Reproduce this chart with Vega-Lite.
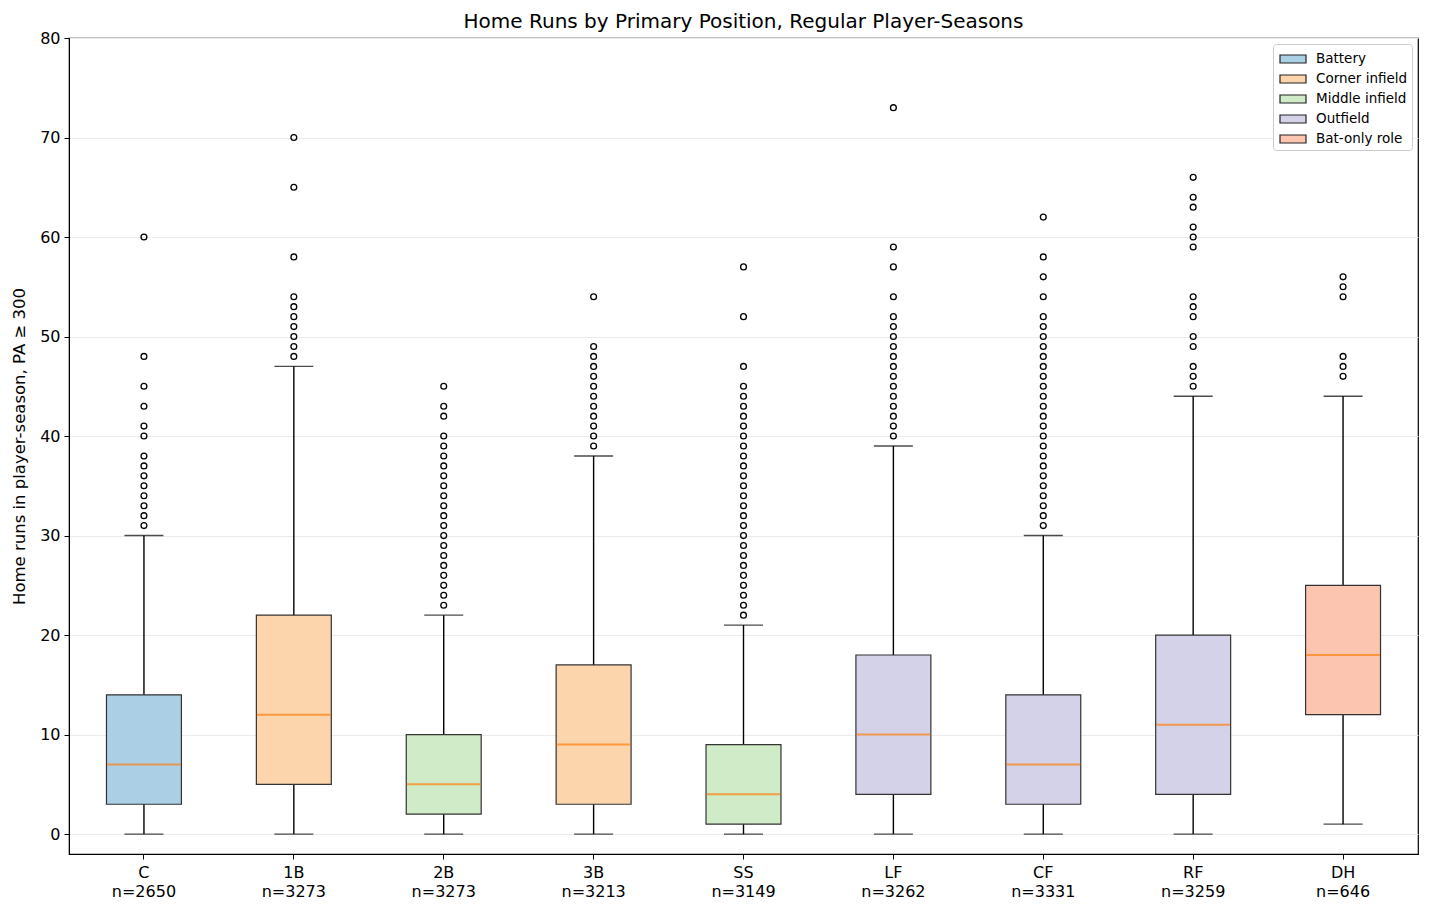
{
  "$schema": "https://vega.github.io/schema/vega-lite/v6.json",
  "description": "Home runs by primary position, box plot",
  "width": 1349,
  "height": 816,
  "autosize": {"type": "none"},
  "padding": {"left": 69, "top": 38, "right": 12, "bottom": 60},
  "title": {
    "text": "Home Runs by Primary Position, Regular Player-Seasons",
    "fontSize": 20,
    "fontWeight": "normal",
    "color": "black",
    "offset": -2
  },
  "datasets": {
    "boxes": [
      {"pos": "C", "group": "Battery", "lo": 0, "q1": 3, "med": 7, "q3": 14, "hi": 30, "n": 2650},
      {"pos": "1B", "group": "Corner infield", "lo": 0, "q1": 5, "med": 12, "q3": 22, "hi": 47, "n": 3273},
      {"pos": "2B", "group": "Middle infield", "lo": 0, "q1": 2, "med": 5, "q3": 10, "hi": 22, "n": 3273},
      {"pos": "3B", "group": "Corner infield", "lo": 0, "q1": 3, "med": 9, "q3": 17, "hi": 38, "n": 3213},
      {"pos": "SS", "group": "Middle infield", "lo": 0, "q1": 1, "med": 4, "q3": 9, "hi": 21, "n": 3149},
      {"pos": "LF", "group": "Outfield", "lo": 0, "q1": 4, "med": 10, "q3": 18, "hi": 39, "n": 3262},
      {"pos": "CF", "group": "Outfield", "lo": 0, "q1": 3, "med": 7, "q3": 14, "hi": 30, "n": 3331},
      {"pos": "RF", "group": "Outfield", "lo": 0, "q1": 4, "med": 11, "q3": 20, "hi": 44, "n": 3259},
      {"pos": "DH", "group": "Bat-only role", "lo": 1, "q1": 12, "med": 18, "q3": 25, "hi": 44, "n": 646}
    ],
    "outliers": [
      {"pos": "C", "hr": 60}, {"pos": "C", "hr": 48}, {"pos": "C", "hr": 45}, {"pos": "C", "hr": 43},
      {"pos": "C", "hr": 41}, {"pos": "C", "hr": 40}, {"pos": "C", "hr": 38}, {"pos": "C", "hr": 37},
      {"pos": "C", "hr": 36}, {"pos": "C", "hr": 35}, {"pos": "C", "hr": 34}, {"pos": "C", "hr": 33},
      {"pos": "C", "hr": 32}, {"pos": "C", "hr": 31},
      {"pos": "1B", "hr": 70}, {"pos": "1B", "hr": 65}, {"pos": "1B", "hr": 58}, {"pos": "1B", "hr": 54},
      {"pos": "1B", "hr": 53}, {"pos": "1B", "hr": 52}, {"pos": "1B", "hr": 51}, {"pos": "1B", "hr": 50},
      {"pos": "1B", "hr": 49}, {"pos": "1B", "hr": 48},
      {"pos": "2B", "hr": 45}, {"pos": "2B", "hr": 43}, {"pos": "2B", "hr": 42}, {"pos": "2B", "hr": 40},
      {"pos": "2B", "hr": 39}, {"pos": "2B", "hr": 38}, {"pos": "2B", "hr": 37}, {"pos": "2B", "hr": 36},
      {"pos": "2B", "hr": 35}, {"pos": "2B", "hr": 34}, {"pos": "2B", "hr": 33}, {"pos": "2B", "hr": 32},
      {"pos": "2B", "hr": 31}, {"pos": "2B", "hr": 30}, {"pos": "2B", "hr": 29}, {"pos": "2B", "hr": 28},
      {"pos": "2B", "hr": 27}, {"pos": "2B", "hr": 26}, {"pos": "2B", "hr": 25}, {"pos": "2B", "hr": 24},
      {"pos": "2B", "hr": 23},
      {"pos": "3B", "hr": 54}, {"pos": "3B", "hr": 49}, {"pos": "3B", "hr": 48}, {"pos": "3B", "hr": 47},
      {"pos": "3B", "hr": 46}, {"pos": "3B", "hr": 45}, {"pos": "3B", "hr": 44}, {"pos": "3B", "hr": 43},
      {"pos": "3B", "hr": 42}, {"pos": "3B", "hr": 41}, {"pos": "3B", "hr": 40}, {"pos": "3B", "hr": 39},
      {"pos": "SS", "hr": 57}, {"pos": "SS", "hr": 52}, {"pos": "SS", "hr": 47}, {"pos": "SS", "hr": 45},
      {"pos": "SS", "hr": 44}, {"pos": "SS", "hr": 43}, {"pos": "SS", "hr": 42}, {"pos": "SS", "hr": 41},
      {"pos": "SS", "hr": 40}, {"pos": "SS", "hr": 39}, {"pos": "SS", "hr": 38}, {"pos": "SS", "hr": 37},
      {"pos": "SS", "hr": 36}, {"pos": "SS", "hr": 35}, {"pos": "SS", "hr": 34}, {"pos": "SS", "hr": 33},
      {"pos": "SS", "hr": 32}, {"pos": "SS", "hr": 31}, {"pos": "SS", "hr": 30}, {"pos": "SS", "hr": 29},
      {"pos": "SS", "hr": 28}, {"pos": "SS", "hr": 27}, {"pos": "SS", "hr": 26}, {"pos": "SS", "hr": 25},
      {"pos": "SS", "hr": 24}, {"pos": "SS", "hr": 23}, {"pos": "SS", "hr": 22},
      {"pos": "LF", "hr": 73}, {"pos": "LF", "hr": 59}, {"pos": "LF", "hr": 57}, {"pos": "LF", "hr": 54},
      {"pos": "LF", "hr": 52}, {"pos": "LF", "hr": 51}, {"pos": "LF", "hr": 50}, {"pos": "LF", "hr": 49},
      {"pos": "LF", "hr": 48}, {"pos": "LF", "hr": 47}, {"pos": "LF", "hr": 46}, {"pos": "LF", "hr": 45},
      {"pos": "LF", "hr": 44}, {"pos": "LF", "hr": 43}, {"pos": "LF", "hr": 42}, {"pos": "LF", "hr": 41},
      {"pos": "LF", "hr": 40},
      {"pos": "CF", "hr": 62}, {"pos": "CF", "hr": 58}, {"pos": "CF", "hr": 56}, {"pos": "CF", "hr": 54},
      {"pos": "CF", "hr": 52}, {"pos": "CF", "hr": 51}, {"pos": "CF", "hr": 50}, {"pos": "CF", "hr": 49},
      {"pos": "CF", "hr": 48}, {"pos": "CF", "hr": 47}, {"pos": "CF", "hr": 46}, {"pos": "CF", "hr": 45},
      {"pos": "CF", "hr": 44}, {"pos": "CF", "hr": 43}, {"pos": "CF", "hr": 42}, {"pos": "CF", "hr": 41},
      {"pos": "CF", "hr": 40}, {"pos": "CF", "hr": 39}, {"pos": "CF", "hr": 38}, {"pos": "CF", "hr": 37},
      {"pos": "CF", "hr": 36}, {"pos": "CF", "hr": 35}, {"pos": "CF", "hr": 34}, {"pos": "CF", "hr": 33},
      {"pos": "CF", "hr": 32}, {"pos": "CF", "hr": 31},
      {"pos": "RF", "hr": 66}, {"pos": "RF", "hr": 64}, {"pos": "RF", "hr": 63}, {"pos": "RF", "hr": 61},
      {"pos": "RF", "hr": 60}, {"pos": "RF", "hr": 59}, {"pos": "RF", "hr": 54}, {"pos": "RF", "hr": 53},
      {"pos": "RF", "hr": 52}, {"pos": "RF", "hr": 50}, {"pos": "RF", "hr": 49}, {"pos": "RF", "hr": 47},
      {"pos": "RF", "hr": 46}, {"pos": "RF", "hr": 45},
      {"pos": "DH", "hr": 56}, {"pos": "DH", "hr": 55}, {"pos": "DH", "hr": 54}, {"pos": "DH", "hr": 48},
      {"pos": "DH", "hr": 47}, {"pos": "DH", "hr": 46}
    ]
  },
  "encoding": {
    "x": {
      "field": "pos",
      "type": "nominal",
      "sort": ["C", "1B", "2B", "3B", "SS", "LF", "CF", "RF", "DH"],
      "scale": {"paddingInner": 0, "paddingOuter": 0},
      "axis": {
        "title": null,
        "labelAngle": 0,
        "labelExpr": "[datum.label, 'n=' + {'C': '2650', '1B': '3273', '2B': '3273', '3B': '3213', 'SS': '3149', 'LF': '3262', 'CF': '3331', 'RF': '3259', 'DH': '646'}[datum.label]]",
        "labelLineHeight": 19,
        "labelPadding": 5,
        "grid": false
      }
    }
  },
  "layer": [
    {
      "data": {"name": "boxes"},
      "mark": {"type": "rule", "color": "black", "strokeWidth": 1.4},
      "encoding": {
        "y": {
          "field": "lo",
          "type": "quantitative",
          "scale": {"domain": [-2, 80], "nice": false, "zero": false},
          "axis": {
            "title": "Home runs in player-season, PA ≥ 300",
            "values": [0, 10, 20, 30, 40, 50, 60, 70, 80],
            "grid": true,
            "gridColor": "#ebebeb",
            "labelPadding": 4,
            "titlePadding": 12
          }
        },
        "y2": {"field": "hi"}
      }
    },
    {
      "data": {"name": "boxes"},
      "mark": {"type": "tick", "color": "black", "size": 39, "thickness": 1.4},
      "encoding": {"y": {"field": "lo", "type": "quantitative"}}
    },
    {
      "data": {"name": "boxes"},
      "mark": {"type": "tick", "color": "black", "size": 39, "thickness": 1.4},
      "encoding": {"y": {"field": "hi", "type": "quantitative"}}
    },
    {
      "data": {"name": "boxes"},
      "mark": {"type": "bar", "width": {"band": 0.5}, "stroke": "#333333", "strokeWidth": 1.2, "opacity": 1},
      "encoding": {
        "y": {"field": "q1", "type": "quantitative"},
        "y2": {"field": "q3"},
        "color": {
          "field": "group",
          "type": "nominal",
          "scale": {
            "domain": ["Battery", "Corner infield", "Middle infield", "Outfield", "Bat-only role"],
            "range": ["#abd0e6", "#fdd5ac", "#d0ebc7", "#d4d2e8", "#fcc5af"]
          },
          "legend": {
            "title": null,
            "orient": "top-right",
            "offset": 6,
            "padding": 4,
            "strokeColor": "#cccccc",
            "fillColor": "white",
            "cornerRadius": 3,
            "labelFontSize": 13.5,
            "rowPadding": 2,
            "symbolType": "M-1.3,-0.4H1.3V0.4H-1.3Z",
            "symbolSize": 400,
            "symbolOffset": 5,
            "symbolStrokeColor": "#222222",
            "symbolStrokeWidth": 1.2,
            "symbolOpacity": 1,
            "labelOffset": 12
          }
        }
      }
    },
    {
      "data": {"name": "boxes"},
      "mark": {"type": "tick", "color": "#ff7f0e", "size": 74, "thickness": 2},
      "encoding": {"y": {"field": "med", "type": "quantitative"}}
    },
    {
      "data": {"name": "outliers"},
      "mark": {"type": "point", "shape": "circle", "filled": false, "stroke": "black", "strokeWidth": 1.3, "size": 34, "opacity": 1},
      "encoding": {"y": {"field": "hr", "type": "quantitative"}}
    }
  ],
  "config": {
    "font": "DejaVu Sans",
    "view": {"stroke": "black", "strokeWidth": 1.2},
    "axis": {
      "labelFontSize": 16,
      "titleFontSize": 16.5,
      "titleFontWeight": "normal",
      "labelColor": "black",
      "titleColor": "black",
      "tickColor": "black",
      "tickSize": 5,
      "domainColor": "black"
    },
    "legend": {"labelColor": "black"}
  }
}
